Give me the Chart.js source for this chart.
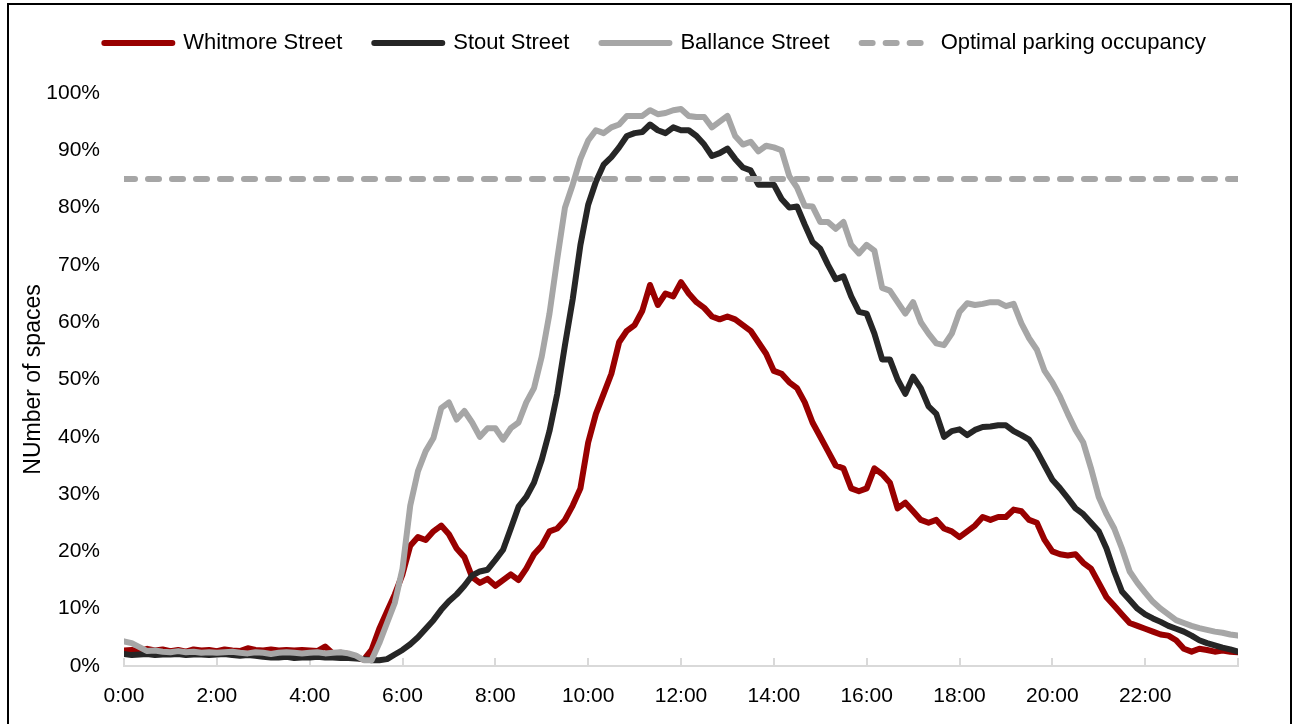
<!DOCTYPE html>
<html>
<head>
<meta charset="utf-8">
<title>Parking occupancy</title>
<script src="https://cdn.jsdelivr.net/npm/chart.js@4.4.1/dist/chart.umd.min.js"></script>
<style>
  html, body { margin: 0; padding: 0; background: #fff; overflow: hidden; }
  #frame { position: absolute; left: 7px; top: 3px; width: 1281px; height: 760px; border: 2px solid #000; }
  #wrap { position: absolute; left: 0; top: 0; width: 1300px; height: 724px; }
</style>
</head>
<body>
<div id="frame"></div>
<div id="wrap"><canvas id="chart"></canvas></div>
<script>
// one reading every 10 minutes, 0:00 through 24:00 (% of spaces occupied)
const STEP_MIN = 10;

const WHITMORE = [
  2.7, 2.8, 2.6, 3.0, 2.7, 2.9,
  2.6, 2.8, 2.5, 2.9, 2.7, 2.8,
  2.6, 2.9, 2.7, 2.6, 3.1, 2.8,
  2.7, 2.9, 2.7, 2.8, 2.7, 2.8,
  2.7, 2.6, 3.4, 2.2, 2.3, 2.1,
  1.5, 1.1, 2.8, 6.5, 9.5, 12.5,
  16, 21, 22.5, 22, 23.5, 24.5,
  23, 20.5, 19, 15.5, 14.5, 15.2,
  14, 15, 16, 15, 17, 19.5,
  21, 23.5, 24, 25.5, 28, 31,
  39, 44, 47.5, 51, 56.5, 58.5,
  59.5, 62, 66.5, 63, 65, 64.5,
  67, 65, 63.5, 62.5, 61, 60.5,
  61, 60.5, 59.5, 58.5, 56.5, 54.5,
  51.5, 51, 49.5, 48.5, 46, 42.5,
  40, 37.5, 35, 34.5, 31, 30.5,
  31, 34.5, 33.5, 32, 27.5, 28.5,
  27, 25.5, 25, 25.5, 24, 23.5,
  22.5, 23.5, 24.5, 26, 25.5, 26,
  26, 27.3, 27, 25.5, 25, 22,
  20, 19.5, 19.3, 19.5, 18, 17,
  14.5, 12, 10.5, 9, 7.5, 7,
  6.5, 6, 5.5, 5.3, 4.5, 3,
  2.5, 3, 2.8, 2.5, 2.7, 2.5,
  2.4
];

const STOUT = [
  2.1, 1.9, 2.0, 2.1, 1.9, 2.0,
  2.0, 2.1, 1.9, 2.0, 2.0, 1.9,
  2.0, 2.1, 1.9, 1.8, 1.9, 1.8,
  1.6, 1.5, 1.5, 1.6, 1.4, 1.5,
  1.5, 1.6, 1.5, 1.5, 1.4, 1.4,
  1.3, 1.2, 1.0, 1.0, 1.2, 2.0,
  2.8, 3.8, 5.0, 6.5, 8.0, 9.8,
  11.3, 12.5, 14, 15.8, 16.5, 16.8,
  18.5, 20.3, 24, 27.8, 29.5, 32,
  36, 41, 47.5, 56, 64, 73.5,
  80.5, 84.5, 87.5, 88.8, 90.5, 92.5,
  93, 93.2, 94.5, 93.5, 93, 94,
  93.5, 93.5, 92.5, 91, 89, 89.5,
  90.3, 88.5, 87, 86.5, 84, 84,
  84, 81.5, 80, 80.2, 77, 74,
  72.8, 70, 67.5, 68, 64.5, 61.8,
  61.5, 58, 53.5, 53.5, 50, 47.5,
  50.5, 48.5, 45.3, 44, 40, 41,
  41.3, 40.3, 41.2, 41.7, 41.8, 42,
  42, 41, 40.3, 39.5, 37.5, 35,
  32.5, 31, 29.3, 27.5, 26.5, 25,
  23.5, 20.5, 16.5, 13, 11.5, 10,
  9, 8.3, 7.7, 7, 6.5, 6,
  5.3, 4.5, 4, 3.6, 3.2, 2.9,
  2.5
];

const BALLANCE = [
  4.3, 4.0, 3.3, 2.6, 2.7, 2.5,
  2.4, 2.6, 2.4, 2.5, 2.3, 2.4,
  2.3, 2.4, 2.5, 2.3, 2.2, 2.4,
  2.3, 2.1, 2.3, 2.4, 2.3, 2.2,
  2.3, 2.4, 2.2, 2.3, 2.4, 2.2,
  1.8, 1.0, 1.0, 4.0, 7.5, 11,
  17, 28, 34, 37.5, 39.8, 45,
  46, 43, 44.5, 42.5, 40, 41.5,
  41.5, 39.5, 41.5, 42.5, 46, 48.5,
  54, 61.5, 71, 80, 84, 88.5,
  91.7, 93.5, 93, 94, 94.5, 96,
  96, 96, 97, 96.3, 96.5, 97,
  97.2, 96, 95.8, 95.8, 94, 95,
  96, 92.5, 91, 91.5, 89.8, 90.8,
  90.5, 90, 85.5, 83.5, 80.3, 80.2,
  77.5, 77.5, 76.3, 77.5, 73.5, 72,
  73.5, 72.5, 66, 65.5, 63.5, 61.5,
  63.5, 60, 58, 56.3, 56, 58,
  61.8, 63.3, 63, 63.2, 63.5, 63.5,
  62.8, 63.2, 59.8, 57.2, 55.2, 51.5,
  49.5, 47, 44, 41.2, 39, 34.5,
  29.5, 26.5, 24, 20.5, 16.5, 14.5,
  12.8, 11.2, 10, 9, 8, 7.5,
  7, 6.6, 6.3, 6, 5.8, 5.5,
  5.3
];

const OPTIMAL = 85;
const DAY_MIN = 1440;
const TICK_MIN = 120;
const LINE_W = 6;

const toPoints = arr => arr.map((v, i) => ({ x: i * STEP_MIN, y: v }));
const hhmm = m => Math.floor(m / 60) + ':00';

// x-axis tick marks point up into the plot, Excel style
const upTicks = {
  id: 'upTicks',
  beforeDatasetsDraw(chart) {
    const sx = chart.scales.x;
    const ctx = chart.ctx;
    ctx.save();
    ctx.strokeStyle = '#d9d9d9';
    ctx.lineWidth = 2;
    sx.ticks.forEach(t => {
      const px = Math.round(sx.getPixelForValue(t.value));
      ctx.beginPath();
      ctx.moveTo(px, sx.top);
      ctx.lineTo(px, sx.top - 8);
      ctx.stroke();
    });
    ctx.restore();
  }
};

// extra room under the legend
const legendGap = {
  id: 'legendGap',
  beforeLayout(chart) {
    const lg = chart.legend;
    if (lg && !lg._gapPatched) {
      const fit = lg.fit;
      lg.fit = function () { fit.call(this); this.height += 29; };
      lg._gapPatched = true;
    }
  }
};

const lineSet = (label, data, color, order) => ({
  label: label,
  data: toPoints(data),
  borderColor: color,
  backgroundColor: color,
  borderWidth: LINE_W,
  borderCapStyle: 'round',
  borderJoinStyle: 'round',
  pointRadius: 0,
  tension: 0,
  order: order
});

new Chart(document.getElementById('chart'), {
  type: 'line',
  data: {
    datasets: [
      lineSet('Whitmore Street', WHITMORE, '#990000', 4),
      lineSet('Stout Street', STOUT, '#262626', 3),
      lineSet('Ballance Street', BALLANCE, '#a6a6a6', 2),
      {
        label: 'Optimal parking occupancy',
        data: [{ x: 0, y: OPTIMAL }, { x: DAY_MIN, y: OPTIMAL }],
        borderColor: '#a6a6a6',
        backgroundColor: '#a6a6a6',
        borderWidth: LINE_W,
        borderDash: [11, 13],
        borderCapStyle: 'round',
        pointRadius: 0,
        order: 1
      }
    ]
  },
  options: {
    responsive: true,
    maintainAspectRatio: false,
    animation: false,
    layout: { padding: { left: 10, right: 62, top: 0, bottom: 0 } },
    plugins: {
      legend: {
        position: 'top',
        align: 'end',
        labels: {
          usePointStyle: true,
          pointStyle: 'line',
          pointStyleWidth: 68,
          padding: 32,
          color: '#000',
          font: { family: 'Liberation Sans, Arial, sans-serif', size: 22 },
          sort: (a, b) => a.datasetIndex - b.datasetIndex,
          // point-style items lose the dataset's dash, put it back
          generateLabels: chart => Chart.defaults.plugins.legend.labels.generateLabels(chart).map(item => {
            const ds = chart.data.datasets[item.datasetIndex];
            item.lineDash = ds.borderDash || [];
            item.lineWidth = LINE_W;
            item.lineCap = 'round';
            item.strokeStyle = ds.borderColor;
            return item;
          })
        }
      },
      tooltip: { enabled: false }
    },
    scales: {
      x: {
        type: 'linear',
        min: 0,
        max: DAY_MIN,
        afterFit: s => { s.height = 58; },
        border: { display: true, color: '#d9d9d9', width: 2 },
        grid: { display: false, drawTicks: false },
        ticks: {
          stepSize: TICK_MIN,
          autoSkip: false,
          maxRotation: 0,
          padding: 18,
          color: '#000',
          font: { family: 'Liberation Sans, Arial, sans-serif', size: 21 },
          callback: v => (v >= DAY_MIN ? '' : hhmm(v))
        }
      },
      y: {
        min: 0,
        max: 100,
        afterFit: s => { s.width = 114; },
        border: { display: false },
        grid: { display: false, drawTicks: false },
        ticks: {
          stepSize: 10,
          padding: 24,
          color: '#000',
          font: { family: 'Liberation Sans, Arial, sans-serif', size: 21 },
          callback: v => v + '%'
        },
        title: {
          display: true,
          text: 'NUmber of spaces',
          color: '#000',
          padding: { top: 10, bottom: 0 },
          font: { family: 'Liberation Sans, Arial, sans-serif', size: 23 }
        }
      }
    }
  },
  plugins: [upTicks, legendGap]
});
</script>
</body>
</html>
